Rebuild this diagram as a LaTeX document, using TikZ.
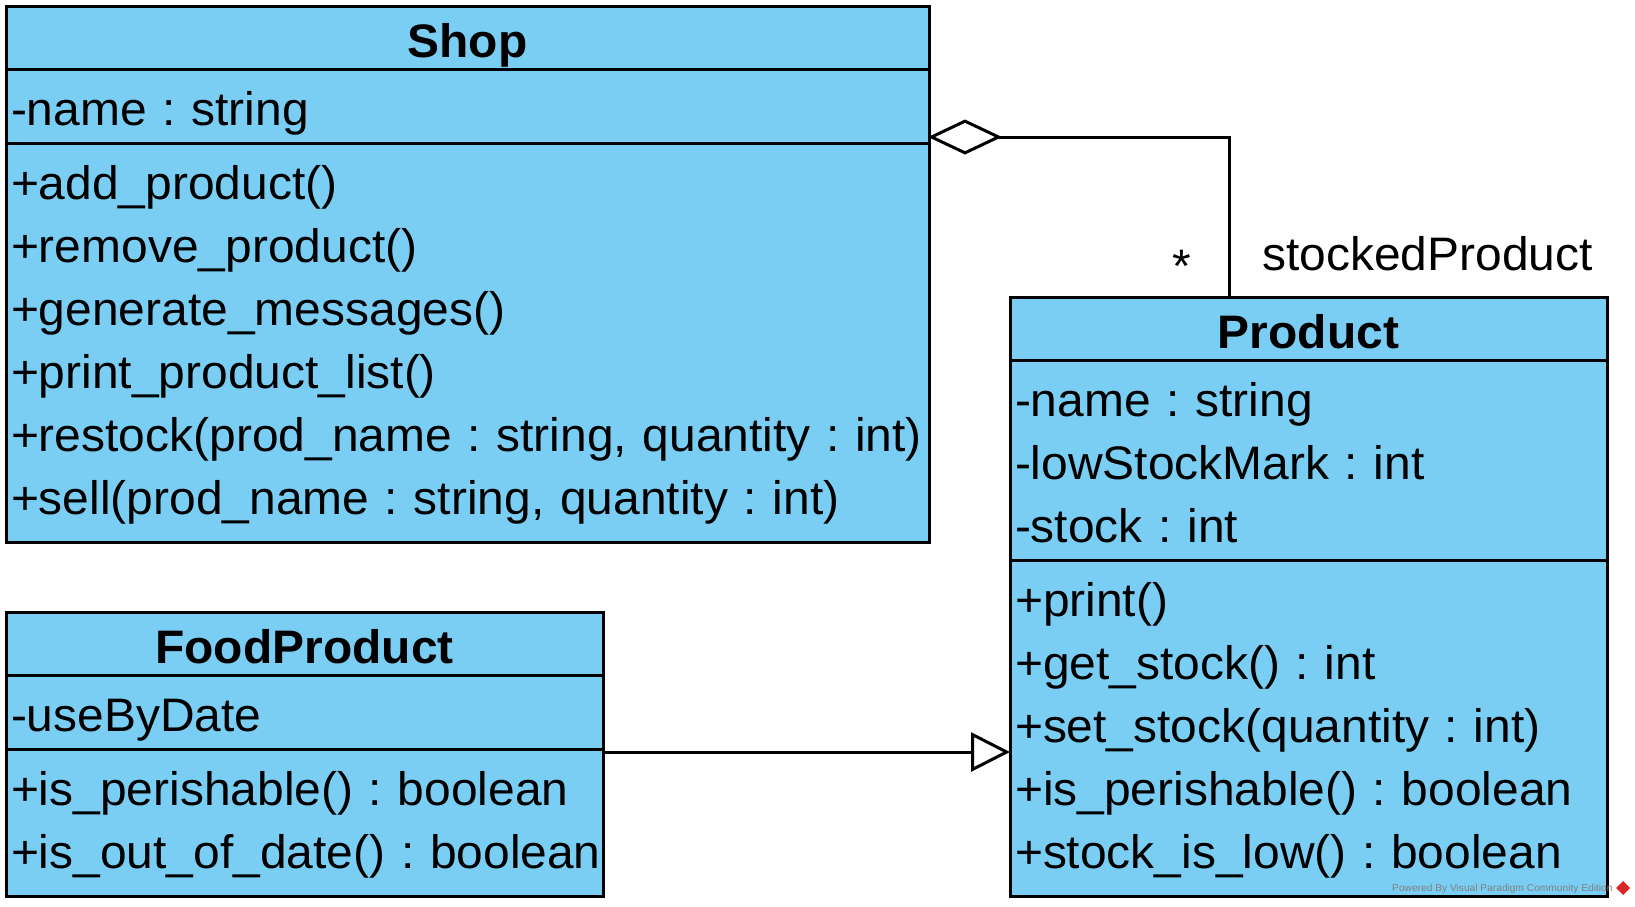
\documentclass[tikz,border=0pt]{standalone}
\usepackage{fontspec}
\setmainfont{Liberation Sans}[FakeStretch=1.02]
\usepackage{xcolor}
\usetikzlibrary{arrows.meta,positioning}
\definecolor{umlblue}{HTML}{7ACEF4}
\definecolor{vpred}{HTML}{D62828}

\begin{document}
\frenchspacing
\begin{tikzpicture}[x=1pt, y=-1pt,
  every node/.style={font=\fontsize{47}{63}\selectfont},
  classpart/.style={draw, fill=umlblue, line width=3pt, outer sep=0pt, anchor=north west},
  classhead/.style={classpart, inner sep=0pt, font=\fontsize{47}{63}\selectfont\bfseries,
    minimum width=#1, text height=51pt, text depth=12pt},
  classbody/.style n args={2}{classpart, align=left, inner xsep=5pt, inner ysep=0pt,
    text width=#1-10pt, minimum width=#1, text height=56pt, text depth=#2},
  aggregation/.style={line width=3pt, shorten >=-1pt,
    -{Diamond[open, fill=white, length=74pt, width=35pt]}},
  generalization/.style={line width=3pt, -{Triangle[open, fill=white, length=39pt, width=39pt]}}]
  \useasboundingbox (0,0) rectangle (1635,906);
  % class Shop
  \node[classhead=923pt] (shop) at (6,6) {Shop};
  \node[classbody={923pt}{18pt}] (shopattr) at (shop.south west) {-name : string};
  \node[classbody={923pt}{343pt}] (shopops) at (shopattr.south west)
    {+add\_product()\\+remove\_product()\\+generate\_messages()\\+print\_product\_list()\\
     +restock(prod\_name : string, quantity : int)\\+sell(prod\_name : string, quantity : int)};
  % class Product
  \node[classhead=597pt] (product) at (1010,297) {Product};
  \node[classbody={597pt}{144pt}] (productattr) at (product.south west)
    {-name : string\\-lowStockMark : int\\-stock : int};
  \node[classbody={597pt}{280pt}] (productops) at (productattr.south west)
    {+print()\\+get\_stock() : int\\+set\_stock(quantity : int)\\+is\_perishable() : boolean\\
     +stock\_is\_low() : boolean};
  % class FoodProduct
  \node[classhead=597pt] (food) at (6,612) {FoodProduct};
  \node[classbody={597pt}{18pt}] (foodattr) at (food.south west) {-useByDate};
  \node[classbody={597pt}{91pt}] (foodops) at (foodattr.south west)
    {+is\_perishable()~:~boolean\\+is\_out\_of\_date()~:~boolean};
  % aggregation Shop <>-- Product
  \draw[aggregation] ([xshift=219pt]product.north west) |- ([yshift=6pt]shopattr.south east);
  \node (mult) at (1182,266) {*};
  \node[anchor=base west, inner sep=0pt] (role) at (1262,270) {stockedProduct};
  % generalization FoodProduct --|> Product
  \draw[generalization] ([yshift=-3pt]foodattr.south east) -- ([yshift=-3pt]foodattr.south east -| productops.west);
  % watermark
  \node[font=\fontsize{10}{12}\selectfont, text=gray, anchor=west, inner sep=0pt] (powered)
    at (1392,889) {Powered By Visual Paradigm Community Edition};
  \fill[vpred] (1623,881) -- (1630,888) -- (1623,895) -- (1616,888) -- cycle;
\end{tikzpicture}
\end{document}
